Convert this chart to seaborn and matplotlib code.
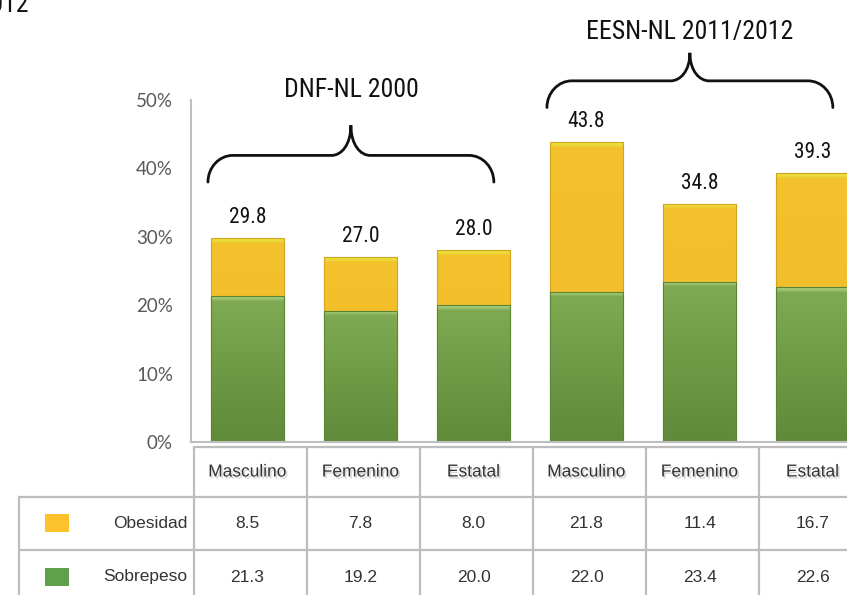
import numpy as np
import pandas as pd
import matplotlib
matplotlib.use("Agg")
import matplotlib.pyplot as plt
import seaborn as sns
from matplotlib import font_manager as fm
from matplotlib.path import Path
from matplotlib.patches import PathPatch, Rectangle
from matplotlib.lines import Line2D
from matplotlib.colors import to_rgb
import matplotlib.transforms as mtransforms
import matplotlib.patheffects as pe

# ---------------- data ----------------
group_titles = ["DNF-NL 2000", "EESN-NL 2011/2012"]
group_of_bar = [0, 0, 0, 1, 1, 1]
categories = ["Masculino", "Femenino", "Estatal", "Masculino", "Femenino", "Estatal"]
obesidad = [8.5, 7.8, 8.0, 21.8, 11.4, 16.7]
sobrepeso = [21.3, 19.2, 20.0, 22.0, 23.4, 22.6]
series_names = ["Obesidad", "Sobrepeso"]
yticks = [0, 10, 20, 30, 40, 50]
tick_labels = ["0%", "10%", "20%", "30%", "40%", "50%"]

# ---------------- style ----------------
sns.set_style("white")
plt.rcParams["font.family"] = ["Liberation Sans", "DejaVu Sans"]

# choose a condensed face (reference uses a condensed sans)
def pick_condensed():
    prefs = ["Liberation Sans Narrow", "Open Sans Condensed", "Open Sans", "Noto Sans",
             "Roboto Condensed", "Roboto", "DejaVu Sans"]
    cond = ("condensed", "semi-condensed", "extra-condensed", 62, 75, 87, 50)
    for name in prefs:
        for f in fm.fontManager.ttflist:
            if f.name != name or f.style != "normal":
                continue
            w = f.weight if isinstance(f.weight, int) else 400
            if name == "Liberation Sans Narrow" or f.stretch in cond:
                if 380 <= (w if isinstance(w, int) else 400) <= 520:
                    return fm.FontProperties(fname=f.fname)
    return fm.FontProperties(family="DejaVu Sans", stretch="condensed")

COND = pick_condensed()
table_family = ["Liberation Sans", "DejaVu Sans"]
tick_family = ["Lato", "DejaVu Sans"]

YELLOW = "#F3BF2C"
GREEN = "#76A34B"
GRID = "#BDBDBD"

W, H = 847, 595
fig = plt.figure(figsize=(W / 100, H / 100), dpi=100)

def fx(x):
    return x / W

def fy(y):
    return 1 - y / H

# axes: 0% at y=442px, 50% at y=100px; x from 191px, 113 px per bar
ax = fig.add_axes([fx(191), fy(442), fx(678), 342 / H])

keys = [f"{c} {group_titles[g]}" for c, g in zip(categories, group_of_bar)]
df = pd.DataFrame({
    "key": keys,
    "categoria": categories,
    "Obesidad": obesidad,
    "Sobrepeso": sobrepeso,
})
df["total"] = df["Obesidad"] + df["Sobrepeso"]

sns.barplot(data=df, x="key", y="total", order=keys, color=YELLOW, width=0.65,
            saturation=1, edgecolor="#D4A21E", linewidth=0.8, ax=ax)
n_y = len(ax.patches)
sns.barplot(data=df, x="key", y="Sobrepeso", order=keys, color=GREEN, width=0.65,
            saturation=1, edgecolor="#5A8436", linewidth=0.8, ax=ax)

ax.set_xlim(-0.5, 5.5)
ax.set_ylim(0, 50)
px_per_unit = 342 / 50.0

# bevel / gradient shading clipped to each bar patch
def shade(patch, top_hi, main_top, main_bot, band_px=5):
    x0, y0 = patch.get_x(), patch.get_y()
    w, h = patch.get_width(), patch.get_height()
    if h <= 0:
        return
    N = 300
    hpx = h * px_per_unit
    t = np.linspace(0, 1, N)  # 0 = top, 1 = bottom
    band = min(band_px / hpx, 0.3)
    cols = np.zeros((N, 1, 3))
    a, b, c = np.array(to_rgb(top_hi)), np.array(to_rgb(main_top)), np.array(to_rgb(main_bot))
    for k, tt in enumerate(t):
        if tt < band:
            cols[k, 0] = a + (b - a) * (tt / band) ** 2
        else:
            u = (tt - band) / (1 - band)
            cols[k, 0] = b + (c - b) * u
    im = ax.imshow(cols, extent=(x0, x0 + w, y0, y0 + h), aspect="auto",
                   origin="upper", zorder=patch.get_zorder() + 0.1,
                   interpolation="bilinear")
    im.set_clip_path(patch)

for k, p in enumerate(list(ax.patches)):
    if k < n_y:
        shade(p, "#E8E23C", "#F4C22C", "#F1BB2C")
    else:
        shade(p, "#A9CC7A", "#7DAA52", "#5F8A3A")
# keep clean outlines above shading
for p in ax.patches:
    p.set_zorder(p.get_zorder() + 0.2)
    p.set_facecolor("none")

ax.set_xlim(-0.5, 5.5)
ax.set_ylim(0, 50)
ax.set_xlabel("")
ax.set_ylabel("")
ax.set_xticks([])
ax.set_yticks(yticks)
ax.set_yticklabels(tick_labels, family=tick_family)
ax.tick_params(axis="y", length=0, pad=13, labelcolor="#595959", labelsize=13.5)
for s in ["top", "right"]:
    ax.spines[s].set_visible(False)
for s in ["left", "bottom"]:
    ax.spines[s].set_color(GRID)
    ax.spines[s].set_linewidth(1.5)

# value labels over bars
for i, t in enumerate(df["total"]):
    ax.annotate(f"{t:.1f}", (i, t), xytext=(0, 10), textcoords="offset pixels",
                ha="center", va="bottom", fontproperties=COND, fontsize=15.5,
                color="#111111")

# braces with group titles
def brace(x0, x1, xm, y_end, y_h, y_tip, rx=0.22, rxt=0.17):
    verts = [
        (x0, y_end),
        (x0, y_end + 0.55 * (y_h - y_end)), (x0 + 0.45 * rx, y_h), (x0 + rx, y_h),
        (xm - rxt, y_h),
        (xm - 0.5 * rxt, y_h), (xm, y_h + 0.35 * (y_tip - y_h)), (xm, y_tip),
        (xm, y_h + 0.35 * (y_tip - y_h)), (xm + 0.5 * rxt, y_h), (xm + rxt, y_h),
        (x1 - rx, y_h),
        (x1 - 0.45 * rx, y_h), (x1, y_end + 0.55 * (y_h - y_end)), (x1, y_end),
    ]
    codes = [Path.MOVETO] + [Path.CURVE4] * 3 + [Path.LINETO] + [Path.CURVE4] * 6 + \
            [Path.LINETO] + [Path.CURVE4] * 3
    ax.add_patch(PathPatch(Path(verts, codes), fill=False, lw=2.0, color="#111111",
                           clip_on=False, capstyle="round"))

brace_levels = [(38.0, 41.9, 46.3, 51.4), (48.9, 52.8, 56.9, 60.0)]
for g, title in enumerate(group_titles):
    idx = [i for i, gg in enumerate(group_of_bar) if gg == g]
    x0, x1 = idx[0] - 0.35, idx[-1] + 0.18
    xm = (x0 + x1) / 2
    ye, yh, yt, ytxt = brace_levels[g]
    brace(x0, x1, xm, ye, yh, yt)
    ax.text(xm, ytxt, title, ha="center", va="center", fontproperties=COND,
            fontsize=18.5, color="#111111", clip_on=False)

# partial title at top-left (cropped in the reference)
fig.text(fx(29), fy(12), "2011/2012", ha="right", va="baseline", fontproperties=COND,
         fontsize=18.5, color="#111111")

# ---------------- data table under the chart ----------------
bt = mtransforms.blended_transform_factory(ax.transData, fig.transFigure)
lw = 1.6

def vline(xd, y0px, y1px):
    fig.add_artist(Line2D([xd, xd], [fy(y0px), fy(y1px)], transform=bt,
                          color=GRID, lw=lw, clip_on=False))

n = len(categories)
fig.add_artist(Line2D([-0.47, n], [fy(447), fy(447)], transform=bt, color=GRID, lw=lw))
for ypx in (497, 550):
    fig.add_artist(Line2D([fx(19), 1.0], [fy(ypx), fy(ypx)], transform=fig.transFigure,
                          color=GRID, lw=lw))
for b in np.arange(-0.47, n, 1.0):
    vline(b if b > -0.4 else -0.47, 447, 600)
fig.add_artist(Line2D([fx(19), fx(19)], [fy(497), fy(600)], transform=fig.transFigure,
                      color=GRID, lw=lw))

shadow = [pe.withSimplePatchShadow(offset=(1.2, -1.5), shadow_rgbFace="#888888", alpha=0.35)]
for i, c in enumerate(categories):
    fig.text(i, fy(472), c, transform=bt, ha="center", va="center", fontsize=12.5,
             color="#333333", family=table_family, path_effects=shadow)

row_y = [523, 577]
row_vals = [obesidad, sobrepeso]
row_cols = ["#FDC22B", "#5EA04B"]
for r, name in enumerate(series_names):
    fig.add_artist(Rectangle((fx(45), fy(row_y[r] + 9)), fx(24), 18 / H,
                             transform=fig.transFigure, color=row_cols[r], lw=0))
    fig.text(fx(187), fy(row_y[r]), name, ha="right", va="center", fontsize=12.5,
             color="#333333", family=table_family)
    for i, v in enumerate(row_vals[r]):
        fig.text(i, fy(row_y[r]), f"{v:.1f}", transform=bt, ha="center", va="center",
                 fontsize=12.5, color="#333333", family=table_family)

fig.savefig("out.png", dpi=100)
